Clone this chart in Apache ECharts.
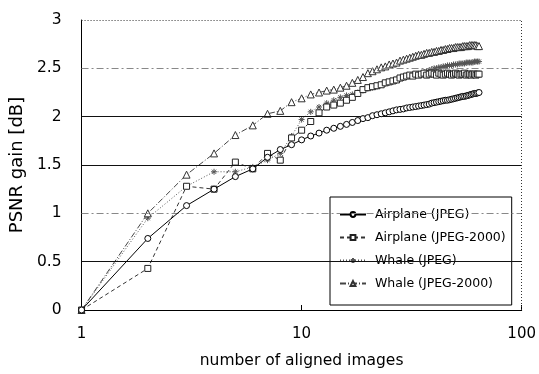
<!DOCTYPE html>
<html>
<head>
<meta charset="utf-8">
<script src="https://cdn.jsdelivr.net/npm/echarts@6/dist/echarts.min.js"></script>
<style>
html,body{margin:0;padding:0;background:#fff;}
#chart{width:539px;height:374px;}
</style>
</head>
<body>
<div id="chart"></div>
<script>
var images = [1,2,3,4,5,6,7,8,9,10,11,12,13,14,15,16,17,18,19,20,21,22,23,24,25,26,27,28,29,30,31,32,33,34,35,36,37,38,39,40,41,42,43,44,45,46,47,48,49,50,51,52,53,54,55,56,57,58,59,60,61,62,63,64];
var seriesNames = ['Airplane (JPEG)','Airplane (JPEG-2000)','Whale (JPEG)','Whale (JPEG-2000)'];
var airplaneJpeg = [0,0.74,1.08,1.25,1.38,1.46,1.58,1.66,1.71,1.76,
  1.80,1.83,1.86,1.88,1.90,1.92,1.94,1.96,1.98,1.99,
  2.01,2.02,2.03,2.04,2.05,2.06,2.07,2.075,2.08,2.09,
  2.095,2.10,2.105,2.11,2.115,2.12,2.125,2.13,2.14,2.145,
  2.15,2.155,2.16,2.165,2.17,2.17,2.175,2.18,2.185,2.19,
  2.195,2.20,2.205,2.21,2.21,2.215,2.22,2.225,2.23,2.235,
  2.24,2.24,2.245,2.25];
var airplaneJ2k = [0,0.43,1.28,1.25,1.53,1.46,1.62,1.55,1.78,1.86,
  1.95,2.04,2.10,2.12,2.14,2.17,2.20,2.24,2.28,2.30,
  2.31,2.32,2.33,2.35,2.36,2.37,2.38,2.40,2.41,2.42,
  2.43,2.42,2.44,2.43,2.44,2.45,2.43,2.44,2.45,2.44,
  2.43,2.45,2.44,2.43,2.44,2.45,2.44,2.43,2.44,2.45,
  2.44,2.43,2.44,2.44,2.45,2.43,2.44,2.44,2.43,2.44,
  2.44,2.43,2.44,2.44];
var whaleJpeg = [0,0.95,1.28,1.43,1.43,1.48,1.55,1.62,1.80,1.97,
  2.05,2.10,2.14,2.17,2.20,2.22,2.23,2.25,2.27,2.29,
  2.30,2.31,2.33,2.34,2.35,2.36,2.37,2.39,2.40,2.41,
  2.42,2.43,2.43,2.44,2.45,2.46,2.47,2.48,2.49,2.50,
  2.50,2.51,2.51,2.52,2.52,2.53,2.53,2.53,2.54,2.54,
  2.54,2.55,2.55,2.55,2.55,2.56,2.56,2.56,2.56,2.56,
  2.57,2.57,2.57,2.57];
var whaleJ2k = [0,1.00,1.40,1.62,1.81,1.91,2.03,2.06,2.15,2.19,
  2.23,2.25,2.27,2.28,2.30,2.32,2.35,2.38,2.41,2.45,
  2.47,2.49,2.51,2.52,2.54,2.55,2.56,2.58,2.59,2.60,
  2.61,2.62,2.63,2.64,2.64,2.65,2.66,2.66,2.67,2.67,
  2.68,2.68,2.69,2.69,2.70,2.70,2.71,2.71,2.71,2.72,
  2.72,2.72,2.72,2.73,2.73,2.73,2.73,2.74,2.74,2.74,
  2.74,2.74,2.73,2.73];
var solidGrid = [0.5,1.5,2];
var dashedGrid = [1,2.5];
var dottedTop = [3];
var dottedRight = [100];

function pairs(ys){ return images.map(function(x,i){ return [x, ys[i]]; }); }

var FONT = 'DejaVu Sans';
var chart = echarts.init(document.getElementById('chart'), null, {renderer:'canvas'});
var gridLines = [];
solidGrid.forEach(function(v){ gridLines.push({yAxis:v, lineStyle:{color:'#111', type:'solid', width:1}}); });
dashedGrid.forEach(function(v){ gridLines.push({yAxis:v, lineStyle:{color:'#888', type:[7,3,2,3], width:1}}); });
dottedTop.forEach(function(v){ gridLines.push({yAxis:v, lineStyle:{color:'#333', type:[1,2], width:1}}); });
dottedRight.forEach(function(v){ gridLines.push({xAxis:v, lineStyle:{color:'#333', type:[1,2], width:1}}); });

var star = 'path://M0,5L10,5M5,0L5,10M1.5,1.5L8.5,8.5M8.5,1.5L1.5,8.5';

chart.setOption({
  animation:false,
  backgroundColor:'#fff',
  textStyle:{fontFamily:FONT},
  grid:{left:75, right:16, top:20, bottom:62, containLabel:false},
  legend:{
    data:seriesNames,
    orient:'vertical',
    left:330, top:197,
    padding:[10,6,14,9],
    itemWidth:26, itemHeight:6, itemGap:8,
    backgroundColor:'#fff',
    borderColor:'#000', borderWidth:1,
    textStyle:{fontFamily:FONT, fontSize:12.5, color:'#000', lineHeight:15, padding:[0,0,0,4]}
  },
  xAxis:{
    type:'log', logBase:10, min:1, max:100,
    name:'number of aligned images', nameLocation:'middle', nameGap:43,
    nameTextStyle:{fontFamily:FONT, fontSize:15.5, color:'#000'},
    axisLine:{show:true, onZero:false, lineStyle:{color:'#000', width:1}},
    axisTick:{show:true, inside:true, length:5, lineStyle:{color:'#000'}},
    minorTick:{show:false},
    axisLabel:{fontFamily:FONT, fontSize:15, color:'#000', margin:17},
    splitLine:{show:false}
  },
  yAxis:{
    type:'value', min:0, max:3, interval:0.5,
    name:'PSNR gain [dB]', nameLocation:'middle', nameGap:39, nameRotate:90,
    nameTextStyle:{fontFamily:FONT, fontSize:18, color:'#000'},
    axisLine:{show:true, lineStyle:{color:'#000', width:1}},
    axisTick:{show:false},
    axisLabel:{fontFamily:FONT, fontSize:15.5, color:'#000', margin:20},
    splitLine:{show:false}
  },
  series:[
    {name:'gridlines', type:'line', data:[], z:1, silent:true,
     markLine:{silent:true, symbol:['none','none'], label:{show:false}, animation:false, data:gridLines}},
    {name:seriesNames[0], type:'line', data:pairs(airplaneJpeg), z:5,
     symbol:'circle', symbolSize:6, showAllSymbol:true,
     lineStyle:{color:'#000', width:1, type:'solid'},
     itemStyle:{color:'#fff', borderColor:'#000', borderWidth:1}},
    {name:seriesNames[1], type:'line', data:pairs(airplaneJ2k), z:4,
     symbol:'rect', symbolSize:6, showAllSymbol:true,
     lineStyle:{color:'#333', width:1, type:[4,3]},
     itemStyle:{color:'#fff', borderColor:'#222', borderWidth:1}},
    {name:seriesNames[2], type:'line', data:pairs(whaleJpeg), z:3,
     symbol:star, symbolSize:6, showAllSymbol:true,
     lineStyle:{color:'#555', width:1, type:[1,2]},
     itemStyle:{color:'#fff', borderColor:'#555', borderWidth:1}},
    {name:seriesNames[3], type:'line', data:pairs(whaleJ2k), z:3,
     symbol:'triangle', symbolSize:7, showAllSymbol:true,
     lineStyle:{color:'#444', width:1, type:[6,2,1,2]},
     itemStyle:{color:'#fff', borderColor:'#333', borderWidth:1}}
  ]
});
</script>
</body>
</html>
